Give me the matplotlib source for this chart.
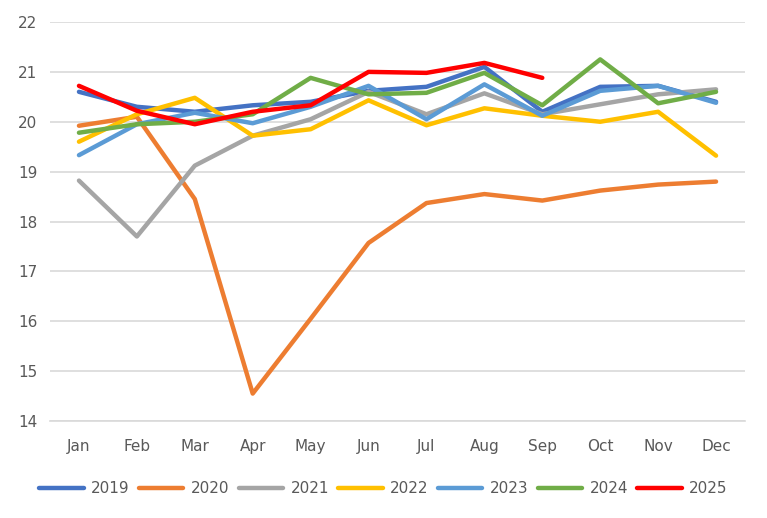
import matplotlib
matplotlib.use("Agg")
from matplotlib import pyplot as plt

plt.rcParams['font.family'] = ['DejaVu Sans']

months = ['Jan', 'Feb', 'Mar', 'Apr', 'May', 'Jun', 'Jul', 'Aug', 'Sep', 'Oct', 'Nov', 'Dec']

y2019 = [20.60, 20.30, 20.20, 20.33, 20.40, 20.62, 20.70, 21.10, 20.20, 20.70, 20.72, 20.40]
y2020 = [19.92, 20.10, 18.45, 14.55, 16.05, 17.57, 18.37, 18.55, 18.42, 18.62, 18.74, 18.80]
y2021 = [18.82, 17.70, 19.12, 19.72, 20.05, 20.60, 20.15, 20.57, 20.15, 20.35, 20.55, 20.65]
y2022 = [19.60, 20.15, 20.48, 19.72, 19.85, 20.43, 19.93, 20.27, 20.12, 20.00, 20.20, 19.32]
y2023 = [19.33, 19.95, 20.18, 19.97, 20.30, 20.72, 20.05, 20.75, 20.12, 20.62, 20.72, 20.38]
y2024 = [19.78, 19.95, 20.00, 20.15, 20.88, 20.55, 20.58, 20.98, 20.33, 21.25, 20.37, 20.60]
y2025 = [20.72, 20.22, 19.95, 20.20, 20.33, 21.00, 20.98, 21.18, 20.88]

series = [
    ('2019', y2019, '#4472C4'),
    ('2020', y2020, '#ED7D31'),
    ('2021', y2021, '#A5A5A5'),
    ('2022', y2022, '#FFC000'),
    ('2023', y2023, '#5B9BD5'),
    ('2024', y2024, '#70AD47'),
    ('2025', y2025, '#FF0000'),
]

fig = plt.figure(figsize=(7.67, 5.18), dpi=100)
ax = fig.add_axes([50 / 767, 1 - 421 / 518, 695 / 767, 399 / 518])

for name, vals, color in series:
    ax.plot(range(len(vals)), vals, color=color, linewidth=3.2, label=name,
            solid_capstyle='round', solid_joinstyle='round')

ax.set_xlim(-0.5, 11.5)
ax.set_ylim(14, 22)
ax.set_yticks(range(14, 23))
ax.set_xticks(range(12))
ax.set_xticklabels(months)
ax.grid(axis='y', color='#D9D9D9', linewidth=1.2)
ax.set_axisbelow(True)
for s in ['top', 'right', 'left']:
    ax.spines[s].set_visible(False)
ax.spines['bottom'].set_color('#D9D9D9')
ax.spines['bottom'].set_linewidth(1.2)
ax.tick_params(length=0, labelsize=11, colors='#595959')
ax.tick_params(axis='x', pad=13)
ax.tick_params(axis='y', pad=9)

leg = fig.legend(loc='lower center', ncol=7, frameon=False, fontsize=11,
                 bbox_to_anchor=(0.5, 0.015), handlelength=2.9, columnspacing=0.6,
                 handletextpad=0.5)
for t in leg.get_texts():
    t.set_color('#595959')

fig.savefig('out.png', dpi=100)
